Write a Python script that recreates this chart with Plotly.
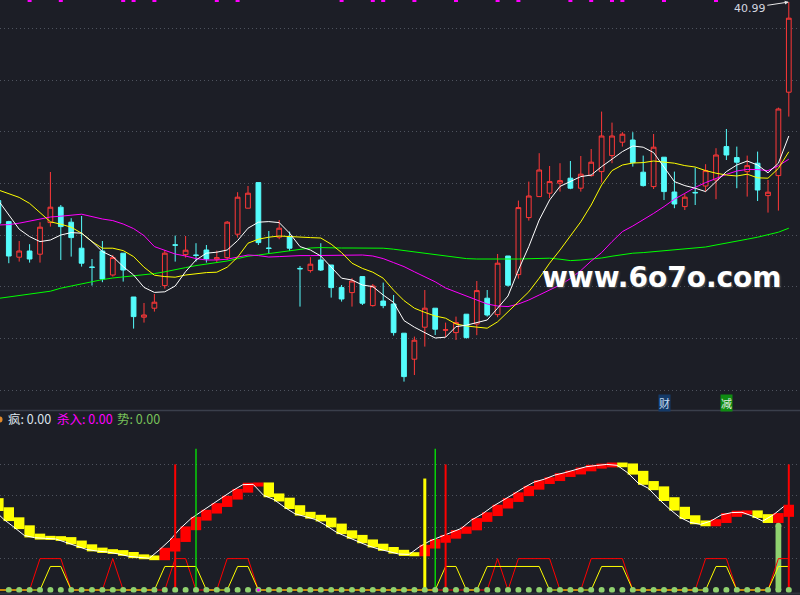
import plotly.graph_objects as go

# canvas / palette
W, H = 800, 595
BG = '#1c1e26'
GRID = '#4e535e'
SPLIT = 410          # px from top where the lower panel starts

# ---------------------------------------------------------------------
# data (one entry per trading day, day -1 is only half visible)
# ---------------------------------------------------------------------
days = list(range(-1, 76))

opens = [31.06, 30.01, 28.23, 28.54, 28.38, 29.96, 30.73, 29.98, 28.68, 27.74,
         28.54, 27.34, 28.43, 26.24, 25.23, 25.68, 26.81, 28.85, 28.36, 28.34,
         28.59, 28.13, 28.21, 29.38, 30.68, 31.96, 28.69, 29.23, 29.26, 27.67,
         27.56, 28.09, 27.84, 26.71, 26.46, 27.26, 25.81, 26.04, 25.89, 24.43,
         23.13, 24.73, 25.68, 24.58, 24.46, 25.38, 24.89, 26.18, 25.36, 28.29,
         27.36, 30.21, 31.26, 31.43, 31.93, 32.18, 31.68, 32.31, 32.51, 33.31,
         33.98, 34.09, 32.48, 31.76, 33.23, 31.49, 30.76, 31.47, 31.79, 32.09,
         33.76, 33.21, 32.51, 32.93, 31.31, 32.31, 36.48]
highs = [31.20, 30.05, 29.04, 28.88, 29.98, 32.49, 30.84, 30.18, 30.29, 28.14,
         29.04, 28.34, 28.43, 26.24, 25.94, 26.39, 28.59, 29.31, 29.29, 28.93,
         28.84, 28.56, 30.04, 31.48, 31.79, 31.96, 29.54, 30.09, 29.51, 27.79,
         28.23, 28.93, 27.84, 26.84, 27.18, 27.26, 26.89, 26.96, 26.34, 24.43,
         24.26, 26.59, 25.68, 24.96, 25.26, 25.38, 27.04, 26.59, 28.39, 28.29,
         31.06, 32.01, 33.43, 32.79, 32.93, 33.04, 33.29, 33.64, 35.51, 34.96,
         34.48, 34.48, 33.31, 34.39, 33.23, 32.51, 31.39, 32.71, 32.88, 33.68,
         34.64, 33.76, 33.31, 33.51, 32.09, 35.71, 40.99]
lows = [29.80, 27.93, 28.01, 27.96, 27.96, 29.76, 28.09, 28.26, 27.76, 26.81,
        26.98, 27.26, 27.01, 24.66, 24.96, 25.51, 26.66, 28.01, 28.21, 28.01,
        27.96, 27.96, 28.09, 29.21, 30.68, 28.84, 28.39, 29.13, 28.54, 25.76,
        27.46, 27.54, 26.21, 26.01, 25.76, 25.84, 25.76, 25.68, 24.31, 22.01,
        22.34, 23.76, 24.34, 24.23, 24.09, 24.16, 24.33, 25.26, 25.23, 26.76,
        27.16, 30.06, 31.24, 31.18, 31.51, 31.63, 31.51, 32.26, 31.96, 32.93,
        33.76, 32.76, 31.76, 31.64, 31.09, 30.68, 30.59, 30.84, 31.51, 31.13,
        33.09, 31.68, 31.26, 31.04, 30.46, 30.56, 35.26]
closes = [29.93, 28.29, 28.54, 28.14, 29.73, 30.73, 29.76, 29.21, 27.93, 27.72,
          27.14, 28.21, 27.59, 25.26, 25.34, 25.98, 28.43, 28.83, 28.58, 28.32,
          28.14, 28.21, 29.98, 31.23, 31.43, 28.96, 28.67, 29.68, 28.68, 27.65,
          27.88, 27.59, 26.71, 26.14, 27.04, 25.93, 26.79, 25.81, 24.46, 22.26,
          24.08, 25.68, 24.63, 24.60, 24.96, 24.21, 26.56, 25.34, 27.93, 26.83,
          30.71, 31.29, 32.59, 32.01, 32.06, 31.68, 32.38, 32.98, 34.29, 34.29,
          34.38, 32.96, 31.81, 33.73, 31.51, 30.89, 31.23, 31.45, 32.56, 33.34,
          33.34, 32.98, 32.81, 31.59, 31.48, 35.64, 40.18]

ma5 = [31.06, 30.34, 29.63, 29.26, 29.01, 29.09, 29.34, 29.46, 29.43, 29.01,
       28.51, 28.26, 27.76, 27.34, 26.72, 26.47, 26.50, 26.79, 27.51, 28.09,
       28.43, 28.48, 28.59, 29.06, 29.68, 29.98, 30.01, 29.96, 29.43, 28.76,
       28.59, 28.29, 27.76, 27.18, 27.09, 26.84, 26.76, 26.34, 25.97, 25.06,
       24.73, 24.46, 24.19, 24.23, 24.76, 24.83, 24.96, 25.09, 25.68, 26.29,
       27.59, 28.76, 30.09, 31.09, 31.77, 32.01, 32.26, 32.34, 32.76, 33.13,
       33.51, 33.79, 33.73, 33.46, 32.76, 32.01, 31.81, 31.68, 31.51, 32.01,
       32.51, 32.84, 33.04, 32.84, 32.45, 32.93, 34.29]
ma10 = [31.59, 31.42, 31.22, 30.92, 30.45, 30.00, 29.88, 29.73, 29.43, 29.01,
        28.68, 28.68, 28.56, 28.26, 27.73, 27.33, 27.26, 27.23, 27.34, 27.41,
        27.46, 27.48, 27.73, 28.23, 28.93, 29.13, 29.23, 29.29, 29.26, 29.21,
        29.21, 29.19, 28.88, 28.46, 27.93, 27.67, 27.48, 27.18, 26.58, 26.06,
        25.68, 25.47, 25.29, 25.18, 24.89, 24.79, 24.73, 24.68, 25.00, 25.50,
        26.00, 26.50, 27.18, 27.93, 28.59, 29.29, 30.00, 30.84, 31.84, 32.56,
        32.84, 32.94, 32.96, 33.04, 32.99, 32.93, 32.81, 32.74, 32.56, 32.43,
        32.34, 32.29, 32.38, 32.20, 32.18, 32.67, 33.50]
ma20 = [29.84, 29.86, 29.93, 30.04, 30.13, 30.24, 30.28, 30.33, 30.38, 30.26,
        30.14, 30.06, 29.89, 29.66, 29.31, 28.76, 28.59, 28.39, 28.29, 28.16,
        28.09, 28.09, 28.13, 28.23, 28.34, 28.31, 28.24, 28.26, 28.29, 28.31,
        28.31, 28.31, 28.31, 28.34, 28.34, 28.34, 28.29, 28.16, 27.96, 27.76,
        27.50, 27.26, 27.00, 26.69, 26.49, 26.25, 26.06, 25.89, 25.79, 25.76,
        25.89, 26.09, 26.34, 26.59, 26.84, 27.16, 27.56, 28.04, 28.46, 29.01,
        29.51, 29.79, 30.09, 30.42, 30.76, 31.13, 31.42, 31.72, 31.96, 32.17,
        32.37, 32.54, 32.62, 32.61, 32.56, 32.80, 33.13]
ma60 = [26.17, 26.24, 26.31, 26.36, 26.43, 26.53, 26.68, 26.79, 26.88, 27.01,
        27.11, 27.19, 27.24, 27.29, 27.34, 27.41, 27.50, 27.59, 27.71, 27.81,
        27.89, 27.98, 28.04, 28.16, 28.28, 28.34, 28.41, 28.48, 28.58, 28.64,
        28.69, 28.71, 28.69, 28.69, 28.69, 28.69, 28.69, 28.68, 28.63, 28.56,
        28.49, 28.43, 28.36, 28.28, 28.21, 28.16, 28.14, 28.13, 28.13, 28.14,
        28.14, 28.16, 28.16, 28.18, 28.13, 28.06, 28.09, 28.13, 28.19, 28.28,
        28.36, 28.43, 28.46, 28.51, 28.56, 28.59, 28.64, 28.68, 28.74, 28.84,
        28.93, 29.01, 29.13, 29.23, 29.34, 29.48, 29.68]

top_mark_days = [2, 5, 11, 12, 14, 20, 22, 32, 35, 36, 39, 43, 47, 49, 54,
                 56, 58, 59, 63, 68]
high_label = '40.99'

# lower panel indicator
band_start = 57.3
band = [51.5, 45.1, 40.0, 34.7, 33.3, 33.1, 32.5, 30.3, 27.9, 25.8,
        24.8, 24.2, 23.0, 21.5, 20.8, 20.2, 25.7, 31.8, 39.3, 45.4,
        49.9, 54.1, 58.8, 63.2, 67.1, 67.3, 60.3, 57.6, 52.8, 48.6,
        46.7, 44.9, 41.1, 36.8, 33.9, 31.0, 28.3, 26.2, 24.4, 22.9,
        22.7, 27.6, 31.3, 33.9, 37.0, 39.2, 44.6, 48.3, 53.1, 57.3,
        61.0, 65.1, 68.7, 70.6, 73.2, 74.8, 76.8, 78.5, 79.3, 80.0,
        79.4, 74.7, 68.2, 64.8, 57.9, 51.8, 46.4, 43.1, 41.8, 43.9,
        47.8, 49.3, 49.5, 47.1, 43.9, 47.8, 53.1]
red_trap = [0, 0, 0, 0, 20, 20, 20, 0, 0, 0,
            0, 20, 0, 0, 0, 0, 0, 20, 20, 0,
            0, 0, 20, 20, 20, 0, 0, 0, 0, 0,
            0, 0, 0, 0, 0, 0, 0, 0, 0, 0,
            0, 0, 0, 0, 0, 0, 0, 0, 20, 0,
            20, 20, 20, 20, 0, 0, 0, 20, 20, 20,
            20, 0, 0, 0, 0, 0, 0, 0, 20, 20,
            20, 0, 0, 0, 0, 20, 20]
yellow_trap = [0, 0, 0, 0, 0, 15, 15, 0, 0, 0,
               0, 0, 0, 0, 0, 0, 15, 15, 15, 15,
               0, 0, 0, 15, 15, 0, 0, 0, 0, 0,
               0, 0, 0, 0, 0, 0, 0, 0, 0, 0,
               0, 0, 0, 15, 15, 0, 0, 15, 15, 15,
               15, 15, 15, 0, 0, 0, 0, 0, 15, 15,
               15, 0, 0, 0, 0, 0, 0, 0, 0, 15,
               15, 0, 0, 0, 0, 15, 15]

red_sig_days, red_sig_level = [16, 42, 75], [80, 80, 80]
green_sig_days, green_sig_level = [18, 41], [90, 90]
yellow_sig_days, yellow_sig_level = [40], [71]
lime_days, lime_level = [74], [41]
pink_days = [24]

labels = [('疯: 0.00', '#dde4ec', 6), ('杀入: 0.00', '#ff00ff', 55),
          ('势: 0.00', '#79c25a', 115)]
tags = [('财', 63, '#143a68', '#c4dcf4'), ('减', 69, '#0f8c12', '#dfeadf')]

# ---------------------------------------------------------------------
# helpers
# ---------------------------------------------------------------------
def px_x(p):
    return p / W


def px_y(p):
    return 1 - p / H


def stems(ds, levels):
    xs, ys = [], []
    for d, lv in zip(ds, levels):
        xs += [d, d, None]
        ys += [0, lv, None]
    return xs, ys


price_top, price_bot = 41.09, 20.59
grid_prices = [39.675 - 2.585 * i for i in range(8)]

fig = go.Figure()

# ---- upper panel: candles + moving averages
fig.add_trace(go.Candlestick(
    x=days, open=opens, high=highs, low=lows, close=closes,
    increasing=dict(line=dict(color='#ff3838', width=1), fillcolor=BG),
    decreasing=dict(line=dict(color='#54fcfc', width=1), fillcolor='#54fcfc'),
    whiskerwidth=0))

for series, colour in [(ma60, '#00ff00'), (ma20, '#ff00ff'),
                       (ma10, '#ffff00'), (ma5, '#ffffff')]:
    fig.add_trace(go.Scatter(x=days, y=series, mode='lines',
                             line=dict(color=colour, width=1)))

fig.add_trace(go.Scatter(x=top_mark_days, y=[price_top] * len(top_mark_days),
                         mode='markers',
                         marker=dict(symbol='square', size=4, color='#ff00ff')))

# ---- lower panel
band_prev = [band_start] + band[:-1]
pad = 1.2
band_base = [min(a, b) - pad for a, b in zip(band_prev, band)]
band_len = [abs(b - a) + 2 * pad for a, b in zip(band_prev, band)]
band_col = ['#ff0000' if b > a else '#ffff00' for a, b in zip(band_prev, band)]

fig.add_trace(go.Scatter(x=[d - 0.5 for d in days], y=band, mode='lines',
                         line=dict(color='#ffffff', width=1), yaxis='y2'))
fig.add_trace(go.Bar(x=days, y=band_len, base=band_base, width=1.0,
                     marker=dict(color=band_col, line=dict(width=0)),
                     yaxis='y2'))

fig.add_trace(go.Scatter(x=days, y=red_trap, mode='lines',
                         line=dict(color='#ff0000', width=1), yaxis='y2'))
fig.add_trace(go.Scatter(x=days, y=yellow_trap, mode='lines',
                         line=dict(color='#ffff00', width=1), yaxis='y2'))

for ds, lv, colour, wd in [(yellow_sig_days, yellow_sig_level, '#ffff00', 3),
                           (red_sig_days, red_sig_level, '#ff0000', 2),
                           (green_sig_days, green_sig_level, '#00ff00', 1.2)]:
    sx, sy = stems(ds, lv)
    fig.add_trace(go.Scatter(x=sx, y=sy, mode='lines',
                             line=dict(color=colour, width=wd), yaxis='y2'))

fig.add_trace(go.Bar(x=lime_days, y=lime_level, base=0, width=0.55,
                     marker=dict(color='#8fd16f', line=dict(width=0)),
                     yaxis='y2'))
fig.add_trace(go.Scatter(x=lime_days, y=lime_level, mode='markers',
                         marker=dict(size=6, color='#8fd16f'), yaxis='y2'))

fig.add_trace(go.Scatter(x=days[1:], y=[0] * len(days[1:]), mode='markers',
                         marker=dict(size=6, color='#8fd16f'), yaxis='y2'))
fig.add_trace(go.Scatter(x=pink_days, y=[0] * len(pink_days), mode='markers',
                         marker=dict(size=3, color='#ff00ff'), yaxis='y2'))

# ---- texts
ann = [
    dict(x=px_x(661.7), y=px_y(277), xref='paper', yref='paper',
         xanchor='center', yanchor='middle',
         text='www.6o7o.com', showarrow=False,
         font=dict(family='DejaVu Sans', size=28, color='#ffffff',
                   weight='bold', shadow='1px 1px 2px #5a5a5a')),
    dict(x=75, y=highs[-1], xref='x', yref='y', text=high_label,
         showarrow=True, ax=-39, ay=6, arrowhead=2, arrowsize=0.8,
         arrowwidth=1, arrowcolor='#e6e6e6', standoff=0,
         font=dict(family='DejaVu Sans', size=11, color='#d4d8e0')),
]
for txt, colour, xl in labels:
    ann.append(dict(x=px_x(xl), y=px_y(418.3), xref='paper', yref='paper',
                    xanchor='left', yanchor='middle', text=txt,
                    showarrow=False,
                    font=dict(family='Noto Sans CJK SC', size=12.5,
                              color=colour)))
for txt, d, bg, fg in tags:
    ann.append(dict(x=d, y=px_y(402.7), xref='x', yref='paper',
                    xanchor='center', yanchor='middle',
                    text=txt, showarrow=False, bgcolor=bg, borderpad=0,
                    font=dict(family='Noto Sans CJK SC', size=11, color=fg)))

shapes = [
    dict(type='line', xref='paper', yref='paper', x0=0, x1=1,
         y0=px_y(410.5), y1=px_y(410.5), line=dict(color='#3a3f4b', width=1.5)),
    dict(type='line', xref='paper', yref='paper', x0=0, x1=1,
         y0=px_y(593.5), y1=px_y(593.5), line=dict(color='#2f333d', width=2)),
    dict(type='circle', xref='paper', yref='paper', x0=px_x(-3), x1=px_x(2.5),
         y0=px_y(422.5), y1=px_y(416.5), fillcolor='#e0882a',
         line=dict(width=0)),
]

fig.update_layout(
    width=W, height=H, margin=dict(l=0, r=0, t=0, b=0),
    paper_bgcolor=BG, plot_bgcolor=BG,
    showlegend=False, hovermode=False,
    barmode='overlay', boxgap=0.35,
    xaxis=dict(range=[-0.846, 76.077], visible=False,
               rangeslider=dict(visible=False), anchor='y2'),
    yaxis=dict(domain=[1 - SPLIT / H, 1], range=[price_bot, price_top],
               tickvals=grid_prices, showticklabels=False, ticks='',
               showgrid=True, gridcolor=GRID, griddash='1px,3px',
               gridwidth=1, zeroline=False, showline=False),
    yaxis2=dict(domain=[0, 1 - SPLIT / H], range=[-3.18, 114.65],
                tickvals=[20, 40, 60, 80], showticklabels=False, ticks='',
                showgrid=True, gridcolor=GRID, griddash='1px,3px',
                gridwidth=1, zeroline=False, showline=False),
    annotations=ann, shapes=shapes,
)

# the page body has a default 8px margin; drop it so the chart sits at 0,0
fig.write_html("out.html", config={'displayModeBar': False},
               post_script="document.body.style.margin='0px';"
                           "document.body.style.background='%s';" % BG)
